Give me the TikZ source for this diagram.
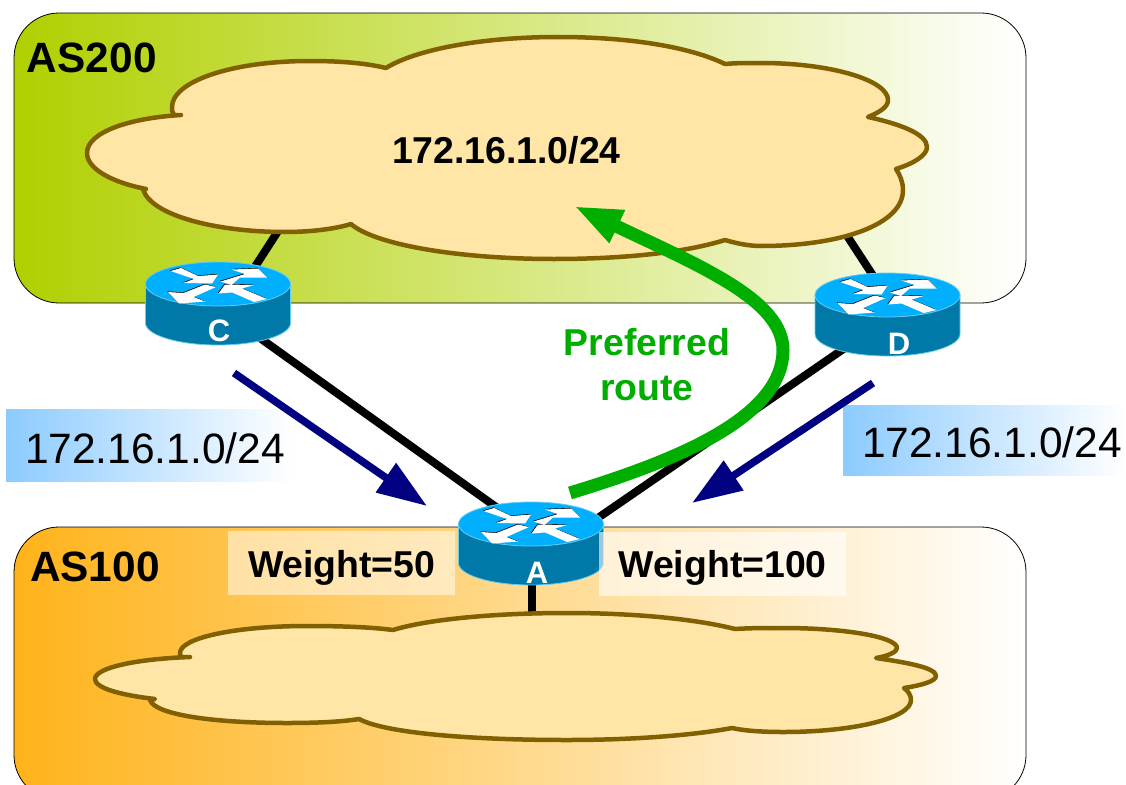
\documentclass[tikz,border=0pt]{standalone}
\usepackage{fontspec}
\setmainfont{Liberation Sans}
\usetikzlibrary{arrows.meta}
\definecolor{cloudfill}{HTML}{FFE6A6}
\definecolor{cloudline}{HTML}{806000}
\definecolor{routertop}{HTML}{00B0FF}
\definecolor{routerside}{HTML}{0078A8}
\definecolor{routeredge}{HTML}{66CCEE}
\definecolor{asgreen}{HTML}{B0D000}
\definecolor{asorange}{HTML}{FFB31A}
\definecolor{skyblue}{HTML}{8CCBFF}
\definecolor{prefgreen}{HTML}{00AE00}
\definecolor{navyarrow}{HTML}{000080}
\tikzset{
  panel/.style={draw=black,line width=0.8pt,rounded corners=45pt},
  cloudshape/.style={fill=cloudfill,draw=cloudline,line width=4.5pt,line join=round,line cap=round},
  link/.style={draw=black,line width=8pt},
  advert/.style={draw=navyarrow,line width=7.5pt,-{Triangle[length=50pt,width=34pt]}},
  lbl/.style={anchor=base west,inner sep=0pt,outer sep=0pt},
  lblc/.style={anchor=base,inner sep=0pt,outer sep=0pt},
  boldbig/.style={font=\fontsize{42.4}{42.4}\selectfont\bfseries},
  boldmid/.style={font=\fontsize{37.4}{37.4}\selectfont\bfseries},
  plainbig/.style={font=\fontsize{42.5}{42.5}\selectfont},
  routerlabel/.style={lblc,text=white,font=\fontsize{31}{31}\selectfont\bfseries},
}
% #1 node name, #2 x centre, #3 y of the top edge, #4 label x, #5 label baseline y, #6 text
\newcommand{\routericon}[6]{%
  \begin{scope}[shift={(#2,#3)}]
    \path[fill=routerside,draw=routeredge,line width=0.8pt]
      (-72.5,22) -- (-72.5,61) arc[start angle=180,end angle=0,x radius=72.5,y radius=22] -- (72.5,22) -- cycle;
    \path[fill=routertop,draw=routeredge,line width=0.8pt] (0,22) ellipse[x radius=72.5,y radius=22];
    \foreach \dx/\dy/\col in {-0.6/-0.6/black,0/0/white}{
      \begin{scope}[shift={(\dx,\dy)}]
      \fill[\col] (-47.5,9) -- (-37,6) -- (-20,14) -- (0,12.5) -- (-6,21.5) -- (-34.5,21) -- (-24,17) -- cycle;
      \fill[\col] (2.5,19.5) -- (27,12) -- (13.5,7.5) -- (40,6.5) -- (49,15.5) -- (22,15.5) -- (13.5,23) -- cycle;
      \fill[\col] (-50,30) -- (-39,41.5) -- (-13,39.5) -- (-24.5,35) -- (-2,25) -- (-13,22.5) -- (-34.5,31) -- cycle;
      \fill[\col] (0.5,31.5) -- (7,22.5) -- (36,23) -- (24,26.5) -- (49,37) -- (36,40) -- (14,30.5) -- cycle;
      \end{scope}
    }
  \end{scope}
  \node[inner sep=0pt,minimum width=145pt,minimum height=83pt] (#1) at (#2,#3+41.5) {};
  \node[routerlabel] (#1label) at (#4,#5) {#6};
}
\begin{document}
\begin{tikzpicture}[x=1pt,y=-1pt]
\useasboundingbox (0,0) rectangle (1126,784);
\clip (0,0) rectangle (1126,784);

% autonomous system panels
\path[panel,left color=asgreen,right color=white] (14,13) rectangle (1026,303);
\path[panel,left color=asorange,right color=white] (14,527) rectangle (1026,800);

\coordinate (CtoA) at (218,308);
\coordinate (AfromC) at (531,532);
\coordinate (DtoA) at (887,319);
\coordinate (AfromD) at (531,564);
\coordinate (CtoCloud) at (240,290);
\coordinate (CloudtoC) at (280,228);
\coordinate (DtoCloud) at (887,297);
\coordinate (CloudtoD) at (840,225);
\coordinate (AtoCloud) at (532,575);
\coordinate (CloudtoA) at (532,620);

% links
\draw[link] (CtoCloud) -- (CloudtoC);
\draw[link] (DtoCloud) -- (CloudtoD);
\draw[link] (CtoA) -- (AfromC);
\draw[link] (DtoA) -- (AfromD);
\draw[link] (AtoCloud) -- (CloudtoA);

% AS200 cloud
\path[cloudshape]
  (181,115) .. controls (130,118) and (87,132) .. (87,153)
  .. controls (87,170) and (115,183) .. (146,189)
  .. controls (143,189) and (143,189) .. (143,189)
  .. controls (150,215) and (215,232) .. (285,232)
  .. controls (310,232) and (335,229) .. (351,224)
  .. controls (375,245) and (460,259) .. (554,259)
  .. controls (615,259) and (680,254) .. (725,240)
  .. controls (735,243) and (748,246) .. (761,246)
  .. controls (840,246) and (903,225) .. (903,190)
  .. controls (903,182) and (900,175) .. (896,169)
  .. controls (915,163) and (927,155) .. (927,147)
  .. controls (927,134) and (900,124) .. (868,117)
  .. controls (880,112) and (888,107) .. (888,100)
  .. controls (888,80) and (830,63) .. (761,63)
  .. controls (748,63) and (735,63) .. (725,64)
  .. controls (690,47) and (630,37) .. (558,37)
  .. controls (480,37) and (415,50) .. (386,68)
  .. controls (365,63) and (340,61) .. (310,61)
  .. controls (230,61) and (172,82) .. (172,107)
  .. controls (172,110) and (172,112) .. (174,115)
  -- cycle;

% AS100 cloud
\path[cloudshape]
  (190,657) .. controls (135,659) and (95,668) .. (95,679)
  .. controls (95,688) and (120,695) .. (155,699)
  -- (150,700)
  .. controls (155,715) and (215,723) .. (287,723)
  .. controls (315,723) and (340,722) .. (359,719)
  .. controls (385,733) and (470,740) .. (567,740)
  .. controls (635,740) and (695,735) .. (732,728)
  .. controls (745,731) and (765,732) .. (783,732)
  .. controls (855,732) and (911,718) .. (911,700)
  .. controls (911,695) and (908,691) .. (904,688)
  .. controls (923,685) and (936,681) .. (936,676)
  .. controls (936,668) and (910,663) .. (876,658)
  .. controls (888,656) and (897,652) .. (897,648)
  .. controls (897,637) and (845,628) .. (783,628)
  .. controls (765,628) and (750,628) .. (735,629)
  .. controls (700,620) and (640,613) .. (567,613)
  .. controls (490,613) and (425,620) .. (393,630)
  .. controls (370,627) and (340,626) .. (307,626)
  .. controls (235,626) and (180,638) .. (180,653)
  .. controls (180,655) and (180,656) .. (182,657)
  -- cycle;

% routers
\routericon{C}{218}{262}{219}{341}{C}
\routericon{D}{887.5}{273}{899}{354}{D}
\routericon{A}{531}{502}{537}{583}{A}

% advertisement boxes
\path[left color=skyblue,right color=white] (6,409) rectangle (292,481);
\path[left color=skyblue,right color=white] (843,405) rectangle (1126,475);
\node[lbl,plainbig] (advC) at (25,463) {172.16.1.0/24};
\node[lbl,plainbig] (advD) at (862,457) {172.16.1.0/24};

% weight boxes
\fill[white,opacity=0.5] (228,531) rectangle (455,595);
\fill[white,opacity=0.6] (599,532) rectangle (846,596);
\node[lbl,boldmid] (weightC) at (248,577) {Weight=50};
\node[lbl,boldmid] (weightD) at (618.5,577) {Weight=100};

% advertisement arrows
\coordinate (advCstart) at (234,373);
\coordinate (advCend) at (427,506);
\coordinate (advDstart) at (873,383);
\coordinate (advDend) at (692,503);
\draw[advert] (advCstart) -- (advCend);
\draw[advert] (advDstart) -- (advDend);

% preferred route
\coordinate (prefStart) at (570,493);
\coordinate (prefTurn) at (783,350);
\coordinate (prefEnd) at (574,206);
\draw[prefgreen,line width=13pt,-{Triangle[length=48pt,width=33pt]}]
  (prefStart) .. controls (668,463) and (783,420) .. (prefTurn)
  .. controls (783,300) and (700,266) .. (prefEnd);
\node[lblc,boldmid,text=prefgreen] (pref1) at (647,355) {Preferred};
\node[lblc,boldmid,text=prefgreen] (pref2) at (647,400) {route};

% titles
\node[lbl,boldbig] (as200) at (27,73) {AS200};
\node[lbl,boldbig] (as100) at (30,581) {AS100};
\node[lbl,boldmid] (prefix) at (392,163) {172.16.1.0/24};
\end{tikzpicture}
\end{document}
